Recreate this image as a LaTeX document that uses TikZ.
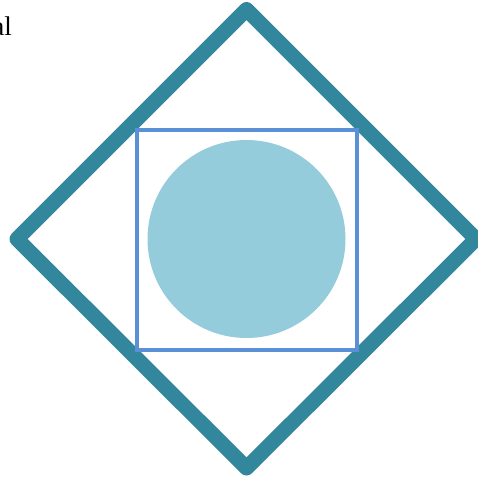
\documentclass[tikz,border=0pt]{standalone}
\usepackage{fontspec}
\setmainfont{Liberation Serif}
\definecolor{teal1}{HTML}{32879C}
\definecolor{blue1}{HTML}{5B8FD6}
\definecolor{cyan1}{HTML}{94CCDC}
\tikzset{
  diam/.style={draw=teal1, line width=15pt, line join=round},
  sq/.style={draw=blue1, line width=4pt},
  disc/.style={fill=cyan1},
  lbl/.style={font=\fontsize{27}{30}\selectfont, inner sep=0pt}
}
\begin{document}
\begin{tikzpicture}[x=1pt,y=-1pt]
\useasboundingbox (0,0) rectangle (478,479);
\coordinate (c) at (246.5,239);
\coordinate (t) at (246.5,9.5);
\coordinate (r) at (476,239);
\coordinate (b) at (246.5,468);
\coordinate (l) at (17,239);
\draw[diam] (t) -- (r) -- (b) -- (l) -- cycle;
\draw[sq] (137,130) rectangle (357,350);
\fill[disc] (c) circle[radius=99];
\node[lbl, anchor=base east] (txt) at (12,35) {al};
\end{tikzpicture}
\end{document}
